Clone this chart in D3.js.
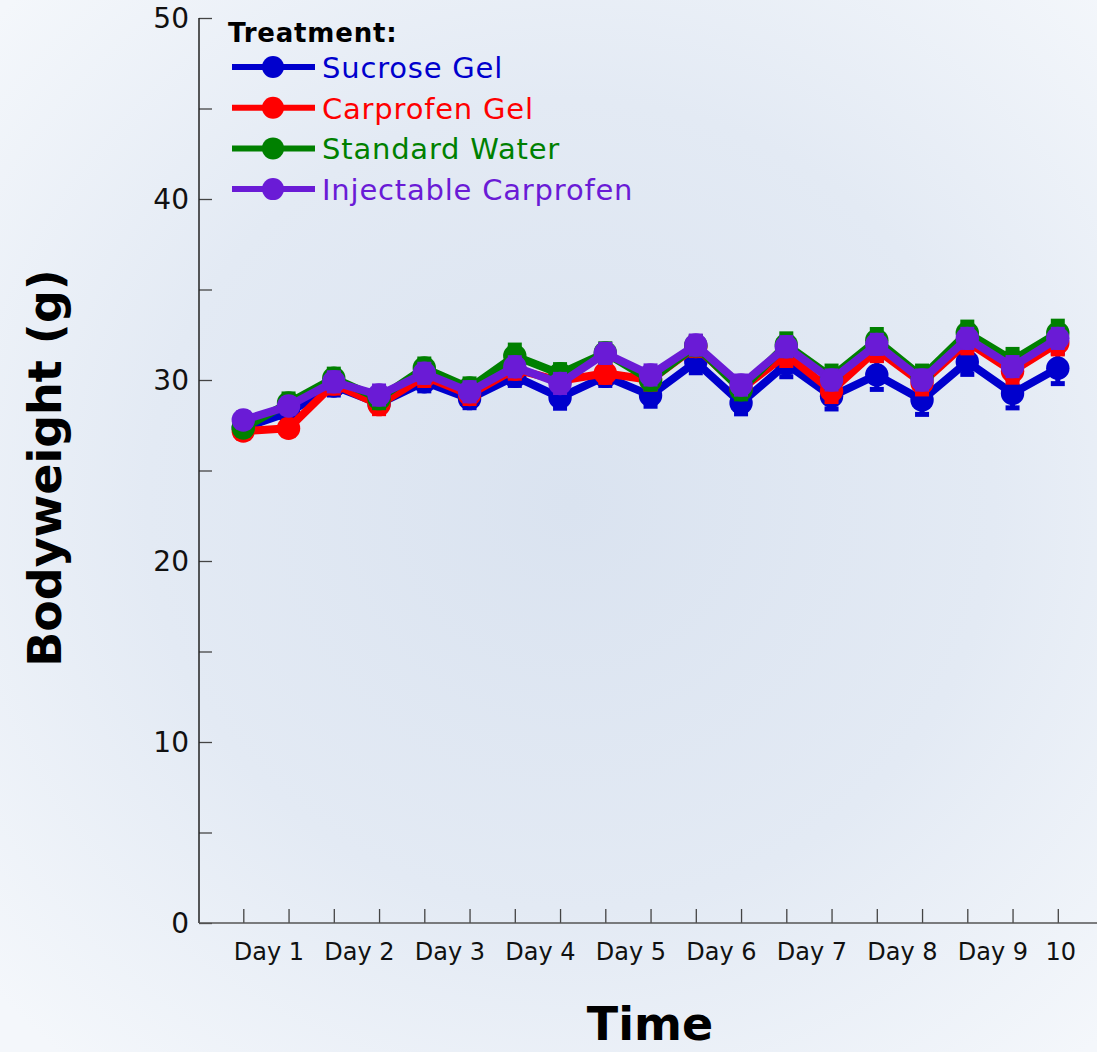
<!DOCTYPE html>
<html>
<head>
<meta charset="utf-8">
<script src="https://cdn.jsdelivr.net/npm/d3@7/dist/d3.min.js"></script>
<style>
  html, body { margin: 0; padding: 0; background: #eef2f8; }
  svg { display: block; }
  text { font-family: 'Comic Sans MS', 'DejaVu Sans', sans-serif; }
</style>
</head>
<body>
<svg id="chart" width="1097" height="1052"></svg>
<script>
// ---------------- data ----------------
const timeIndex = [0,1,2,3,4,5,6,7,8,9,10,11,12,13,14,15,16,17,18];
const xTickLabels = ["Day 1","Day 2","Day 3","Day 4","Day 5","Day 6","Day 7","Day 8","Day 9","10"];
const xTickLabelPos = [0.5, 2.5, 4.5, 6.5, 8.5, 10.5, 12.5, 14.5, 16.5, 18];
const yTickValues = [0, 10, 20, 30, 40, 50];
const yMinorTicks = [5, 15, 25, 35, 45];

const seriesNames = ["Sucrose Gel", "Carprofen Gel", "Standard Water", "Injectable Carprofen"];
const seriesColors = ["#0000cd", "#ff0000", "#008000", "#6a1bd6"];

const sucroseGel =   [27.35, 28.2, 29.67, 28.7, 29.9, 28.97, 30.2, 29.04, 30.2, 29.15, 31.0, 28.73, 30.88, 29.1, 30.28, 28.9, 31.01, 29.26, 30.65];
const carprofenGel = [27.18, 27.33, 29.78, 28.64, 30.2, 29.2, 30.6, 29.95, 30.37, 30.0, 31.85, 29.5, 31.4, 29.41, 31.67, 29.83, 32.1, 30.48, 32.04];
const standardWater =[27.35, 28.73, 30.1, 28.97, 30.66, 29.56, 31.33, 30.35, 31.5, 30.0, 31.9, 29.46, 31.95, 30.17, 32.19, 30.17, 32.6, 31.09, 32.6];
const injectable =   [27.79, 28.56, 29.9, 29.17, 30.37, 29.35, 30.73, 29.81, 31.47, 30.28, 31.93, 29.72, 31.84, 30.0, 31.97, 30.0, 32.3, 30.74, 32.3];

const sucroseErr =   [0.4, 0.5, 0.5, 0.5, 0.5, 0.5, 0.5, 0.6, 0.5, 0.6, 0.6, 0.6, 0.7, 0.7, 0.8, 0.8, 0.7, 0.8, 0.85];
const carprofenErr = [0.4, 0.4, 0.5, 0.5, 0.5, 0.5, 0.5, 0.5, 0.5, 0.5, 0.5, 0.5, 0.6, 0.6, 0.6, 0.6, 0.6, 0.6, 0.6];
const waterErr =     [0.4, 0.5, 0.5, 0.5, 0.5, 0.5, 0.6, 0.5, 0.5, 0.5, 0.5, 0.5, 0.6, 0.6, 0.6, 0.6, 0.6, 0.6, 0.65];
const injectErr =    [0.4, 0.4, 0.5, 0.5, 0.5, 0.5, 0.5, 0.5, 0.5, 0.5, 0.5, 0.5, 0.5, 0.5, 0.5, 0.5, 0.5, 0.5, 0.5];

const seriesValues = [sucroseGel, carprofenGel, standardWater, injectable];
const seriesErrors = [sucroseErr, carprofenErr, waterErr, injectErr];

// ---------------- layout ----------------
const svg = d3.select("#chart");
const W = 1097, H = 1052;

const defs = svg.append("defs");
const grad = defs.append("radialGradient").attr("id", "bg")
  .attr("cx", "52%").attr("cy", "48%").attr("r", "70%");
grad.append("stop").attr("offset", "0%").attr("stop-color", "#dae3f0");
grad.append("stop").attr("offset", "55%").attr("stop-color", "#e3eaf4");
grad.append("stop").attr("offset", "100%").attr("stop-color", "#f4f7fb");
svg.append("rect").attr("width", W).attr("height", H).attr("fill", "url(#bg)");

const x = d3.scaleLinear().domain([0, 18]).range([243.3, 1057.8]);
const y = d3.scaleLinear().domain([0, 50]).range([923, 18]);
const axisLeft = 199;

// axes
const gY = svg.append("g").attr("transform", `translate(${axisLeft},0)`);
gY.call(d3.axisRight(y).tickValues(yTickValues.concat(yMinorTicks)).tickSize(13).tickFormat(""));
gY.select(".domain").remove();
gY.selectAll(".tick line").attr("stroke", "#444").attr("stroke-width", 1.3);
gY.append("line").attr("x1", 0).attr("x2", 0).attr("y1", y(50)).attr("y2", y(0))
  .attr("stroke", "#222").attr("stroke-width", 1.5);

svg.append("g").selectAll("text").data(yTickValues).join("text")
  .attr("x", 189).attr("y", d => y(d) + 10)
  .attr("text-anchor", "end").attr("font-size", 28).attr("fill", "#111")
  .text(d => d);

const gX = svg.append("g").attr("transform", `translate(0,${y(0)})`);
gX.call(d3.axisTop(x).tickValues(timeIndex).tickSize(14).tickFormat(""));
gX.select(".domain").remove();
gX.selectAll(".tick line").attr("stroke", "#444").attr("stroke-width", 1.3);
gX.append("line").attr("x1", axisLeft).attr("x2", W).attr("y1", 0).attr("y2", 0)
  .attr("stroke", "#555").attr("stroke-width", 1.5);

svg.append("g").selectAll("text").data(xTickLabels).join("text")
  .attr("x", (d, i) => x(xTickLabelPos[i]) + 3)
  .attr("y", 960)
  .attr("text-anchor", "middle").attr("font-size", 24).attr("fill", "#111")
  .text(d => d);

// axis titles
svg.append("text").attr("x", 650).attr("y", 1040).attr("text-anchor", "middle")
  .attr("font-size", 46).attr("font-weight", "bold").attr("fill", "#000").text("Time");
svg.append("text").attr("transform", "translate(61,468) rotate(-90)")
  .attr("text-anchor", "middle").attr("font-size", 46).attr("font-weight", "bold")
  .attr("fill", "#000").text("Bodyweight (g)");

// series
const line = d3.line().x((d, i) => x(timeIndex[i])).y(d => y(d));
seriesValues.forEach((vals, s) => {
  const g = svg.append("g");
  const col = seriesColors[s];
  const errs = seriesErrors[s];
  g.append("path").datum(vals).attr("d", line).attr("fill", "none")
    .attr("stroke", col).attr("stroke-width", 8).attr("stroke-linejoin", "round");
  const eb = g.append("g");
  vals.forEach((v, i) => {
    const cx = x(timeIndex[i]);
    eb.append("line").attr("x1", cx).attr("x2", cx).attr("y1", y(v - errs[i])).attr("y2", y(v + errs[i]))
      .attr("stroke", col).attr("stroke-width", 5);
    [v - errs[i], v + errs[i]].forEach(e => {
      eb.append("line").attr("x1", cx - 7).attr("x2", cx + 7).attr("y1", y(e)).attr("y2", y(e))
        .attr("stroke", col).attr("stroke-width", 5);
    });
  });
  g.selectAll("circle").data(vals).join("circle")
    .attr("cx", (d, i) => x(timeIndex[i])).attr("cy", d => y(d)).attr("r", 11.7)
    .attr("fill", col);
});

// legend
const lg = svg.append("g");
lg.append("text").attr("x", 228).attr("y", 42).attr("font-size", 26).attr("font-weight", "bold")
  .attr("letter-spacing", 0.8).attr("fill", "#000").text("Treatment:");
seriesNames.forEach((name, s) => {
  const ly = 67 + s * 40.7;
  lg.append("line").attr("x1", 232).attr("x2", 315).attr("y1", ly).attr("y2", ly)
    .attr("stroke", seriesColors[s]).attr("stroke-width", 6);
  lg.append("circle").attr("cx", 273).attr("cy", ly).attr("r", 11).attr("fill", seriesColors[s]);
  lg.append("text").attr("x", 322).attr("y", ly + 11).attr("font-size", 29)
    .attr("letter-spacing", 0.8).attr("fill", seriesColors[s]).text(name);
});
</script>
</body>
</html>
